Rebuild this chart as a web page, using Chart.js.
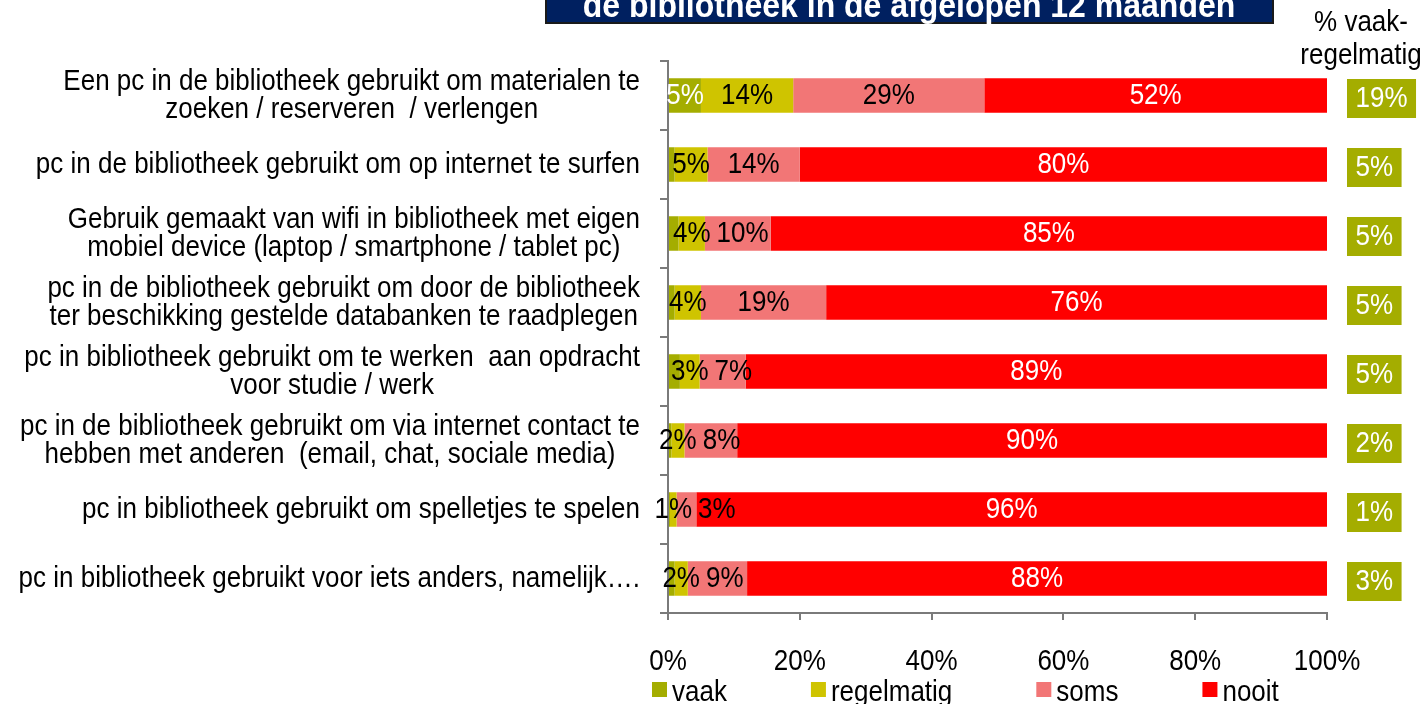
<!DOCTYPE html>
<html>
<head>
<meta charset="utf-8">
<script src="https://cdn.jsdelivr.net/npm/chart.js@4.4.1/dist/chart.umd.min.js"></script>
<style>
  body { margin: 0; background: #fff; }
  canvas { display: block; }
</style>
</head>
<body>
<canvas id="grafiek" width="1425" height="704"></canvas>
<script>
// categorieën (regels zoals ze onder elkaar staan)
const categorieen = [
    ['Een pc in de bibliotheek gebruikt om materialen te', 'zoeken / reserveren  / verlengen'],
    ['pc in de bibliotheek gebruikt om op internet te surfen'],
    ['Gebruik gemaakt van wifi in bibliotheek met eigen', 'mobiel device (laptop / smartphone / tablet pc)'],
    ['pc in de bibliotheek gebruikt om door de bibliotheek', 'ter beschikking gestelde databanken te raadplegen'],
    ['pc in bibliotheek gebruikt om te werken  aan opdracht', 'voor studie / werk'],
    ['pc in de bibliotheek gebruikt om via internet contact te', 'hebben met anderen  (email, chat, sociale media)'],
    ['pc in bibliotheek gebruikt om spelletjes te spelen'],
    ['pc in bibliotheek gebruikt voor iets anders, namelijk….']
];

const vaak       = [5, 1, 1.6, 1, 1.8, 0.5, 0.3, 1];
const regelmatig = [14, 5, 4, 4, 3, 2, 1, 2];
const soms       = [29, 14, 10, 19, 7, 8, 3, 9];
const nooit      = [52, 80, 85, 76, 89, 90, 96, 88];
const vaakRegelmatig = [19, 5, 5, 5, 5, 2, 1, 3];

const xTicks = [0, 20, 40, 60, 80, 100];
const titel = 'de bibliotheek in de afgelopen 12 maanden';
const kolomTitel = ['% vaak-', 'regelmatig'];

const FONT = '"Liberation Sans", Arial, sans-serif';
const kleuren = { vaak: '#a4ad00', regelmatig: '#cfc400', soms: '#f27676', nooit: '#ff0000' };
const asKleur = '#7a7a7a';
const REK = 1.1; // tekst iets hoger dan breed

function schrijf(ctx, s, x, y) {
    ctx.save();
    ctx.translate(x, y);
    ctx.scale(1, REK);
    ctx.fillText(s, 0, 0);
    ctx.restore();
}

// percentages in de balken, naar rechts geschoven als ze elkaar raken
const segmentLabels = {
    id: 'segmentLabels',
    afterDatasetsDraw(chart) {
        const ctx = chart.ctx;
        const rechts = chart.chartArea.right;
        const metas = chart.data.datasets.map((ds, i) => chart.getDatasetMeta(i));
        ctx.save();
        ctx.font = '26px ' + FONT;
        ctx.textAlign = 'center';
        ctx.textBaseline = 'middle';
        categorieen.forEach((_, j) => {
            let vorigeRand = -Infinity;
            chart.data.datasets.forEach((ds, i) => {
                const v = ds.data[j];
                if (v < ds.minLabel) return;
                const bar = metas[i].data[j];
                const tekst = Math.round(v) + '%';
                const w = ctx.measureText(tekst).width;
                let x = (Math.min(bar.x, rechts) + bar.base) / 2;
                if (x - w / 2 < vorigeRand + 6) x = vorigeRand + 6 + w / 2;
                vorigeRand = x + w / 2;
                ctx.fillStyle = ds.labelKleur;
                schrijf(ctx, tekst, x, bar.y + 1);
            });
        });
        ctx.restore();
    }
};

// categorielabels links en waarden op de x-as
const asLabels = {
    id: 'asLabels',
    afterDraw(chart) {
        const ctx = chart.ctx;
        const yAs = chart.scales.y;
        const xAs = chart.scales.x;
        const rechts = chart.chartArea.left - 28;
        ctx.save();
        ctx.font = '26px ' + FONT;
        ctx.textAlign = 'center';
        ctx.textBaseline = 'middle';
        ctx.fillStyle = '#000';
        categorieen.forEach((regels, i) => {
            const yc = yAs.getPixelForValue(i) + 1;
            const breedte = Math.max(...regels.map(r => ctx.measureText(r).width));
            const xc = rechts - breedte / 2;
            const start = yc - (regels.length - 1) * 28 / 2;
            regels.forEach((r, k) => schrijf(ctx, r, xc, start + k * 28));
        });
        xAs.ticks.forEach(t => {
            schrijf(ctx, t.value + '%', xAs.getPixelForValue(t.value), chart.chartArea.bottom + 49);
        });
        ctx.restore();
    }
};

// kolom "% vaak-regelmatig" rechts van de grafiek
const rechterKolom = {
    id: 'rechterKolom',
    afterDraw(chart) {
        const ctx = chart.ctx;
        const yAs = chart.scales.y;
        const links = chart.chartArea.right + 20;
        ctx.save();
        ctx.font = '26px ' + FONT;
        ctx.textBaseline = 'middle';
        ctx.textAlign = 'center';
        ctx.fillStyle = '#000';
        schrijf(ctx, kolomTitel[0], links + 14, 23);
        schrijf(ctx, kolomTitel[1], links + 14, 56);
        ctx.textAlign = 'left';
        vaakRegelmatig.forEach((v, i) => {
            const yc = yAs.getPixelForValue(i) + 3;
            const tekst = v + '%';
            const w = ctx.measureText(tekst).width + 17;
            ctx.fillStyle = kleuren.vaak;
            ctx.fillRect(links, yc - 19.5, w, 39);
            ctx.fillStyle = '#fff';
            schrijf(ctx, tekst, links + 8.5, yc + 1);
        });
        ctx.restore();
    }
};

// titelbalk bovenaan (valt deels buiten beeld)
const titelBalk = {
    id: 'titelBalk',
    afterDraw(chart) {
        const ctx = chart.ctx;
        ctx.save();
        ctx.fillStyle = '#1a1a1a';
        ctx.fillRect(545, -40, 729, 64);
        ctx.fillStyle = '#002060';
        ctx.fillRect(547, -40, 725, 62);
        ctx.fillStyle = '#fff';
        ctx.font = 'bold 32px ' + FONT;
        ctx.textAlign = 'center';
        ctx.textBaseline = 'alphabetic';
        schrijf(ctx, titel, 909, 17);
        ctx.restore();
    }
};

// legenda onderaan
const legenda = {
    id: 'legenda',
    afterDraw(chart) {
        const ctx = chart.ctx;
        let x = chart.chartArea.left - 16;
        ctx.save();
        ctx.font = '26px ' + FONT;
        ctx.textAlign = 'left';
        ctx.textBaseline = 'alphabetic';
        chart.data.datasets.forEach(ds => {
            ctx.fillStyle = ds.backgroundColor;
            ctx.fillRect(x, 682, 15, 15);
            ctx.fillStyle = '#000';
            schrijf(ctx, ds.label, x + 20, 701);
            x += 20 + ctx.measureText(ds.label).width + 84;
        });
        ctx.restore();
    }
};

function reeks(label, data, kleur, labelKleur, minLabel) {
    return {
        label, data,
        backgroundColor: kleur,
        borderWidth: 0,
        barPercentage: 0.5,
        categoryPercentage: 1,
        labelKleur, minLabel
    };
}

new Chart(document.getElementById('grafiek'), {
    type: 'bar',
    data: {
        labels: categorieen.map(r => r.join(' ')),
        datasets: [
            reeks('vaak', vaak, kleuren.vaak, '#fff', 3),
            reeks('regelmatig', regelmatig, kleuren.regelmatig, '#000', 1),
            reeks('soms', soms, kleuren.soms, '#000', 1),
            reeks('nooit', nooit, kleuren.nooit, '#fff', 1)
        ]
    },
    options: {
        indexAxis: 'y',
        responsive: false,
        animation: false,
        layout: { padding: { top: 61, right: 98, left: 0, bottom: 0 } },
        plugins: { legend: { display: false }, tooltip: { enabled: false } },
        scales: {
            x: {
                stacked: true,
                min: 0, max: 100,
                afterBuildTicks: s => { s.ticks = xTicks.map(v => ({ value: v })); },
                afterFit: s => { s.height = 91; },
                border: { display: true, color: asKleur, width: 2 },
                grid: { drawOnChartArea: false, tickLength: 7, color: asKleur, lineWidth: 2 },
                ticks: { display: false }
            },
            y: {
                stacked: true,
                afterFit: s => { s.width = 668; },
                border: { display: true, color: asKleur, width: 2 },
                grid: { offset: true, drawOnChartArea: false, tickLength: 8, color: asKleur, lineWidth: 2 },
                ticks: { display: false }
            }
        }
    },
    plugins: [segmentLabels, asLabels, rechterKolom, titelBalk, legenda]
});
</script>
</body>
</html>
